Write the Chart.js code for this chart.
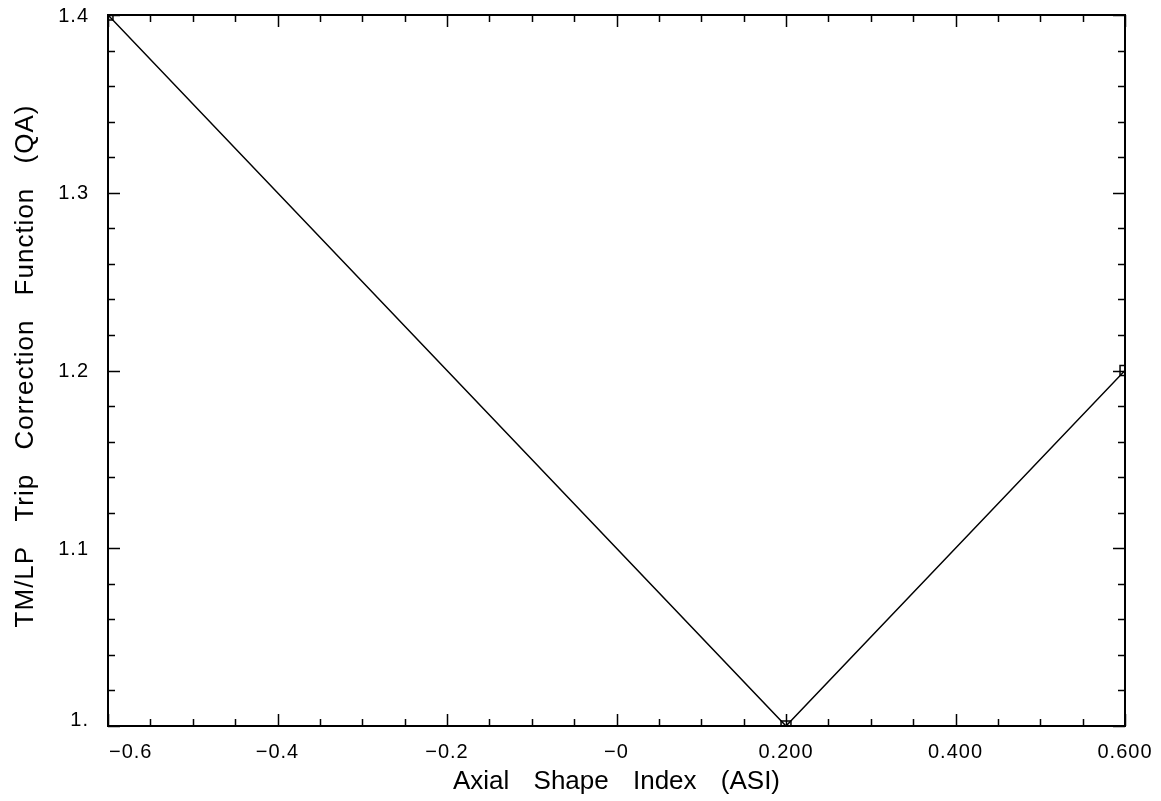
<!DOCTYPE html>
<html><head><meta charset="utf-8">
<script src="https://cdn.jsdelivr.net/npm/chart.js@4/dist/chart.umd.min.js"></script>
<style>html,body{margin:0;padding:0;background:#fff}#wrap{width:1161px;height:801px;position:relative}</style>
</head><body><div id="wrap"><canvas id="c"></canvas></div>
<script>
const asiValues = [-0.6, 0.2, 0.6];
const qaValues = [1.4, 1.0, 1.2];
const xMajorTicks = [-0.6, -0.4, -0.2, 0, 0.2, 0.4, 0.6];
const xTickLabels = ['−0.6', '−0.4', '−0.2', '−0', '0.200', '0.400', '0.600'];
const yMajorTicks = [1.0, 1.1, 1.2, 1.3, 1.4];
const yTickLabels = ['1.', '1.1', '1.2', '1.3', '1.4'];
const xRange = [-0.6, 0.6];
const yRange = [1.0, 1.4];
const xMinorStep = 0.05;
const yMinorStep = 0.02;
const xTitle = 'Axial Shape Index (ASI)';
const yTitle = 'TM/LP Trip Correction Function (QA)';

const FONT = "'Liberation Sans', Arial, sans-serif";

const framePlugin = {
  id: 'frame',
  afterDraw(chart) {
    const ctx = chart.ctx;
    const a = chart.chartArea;
    const xs = chart.scales.x, ys = chart.scales.y;
    ctx.save();
    ctx.strokeStyle = '#000';
    ctx.fillStyle = '#000';
    ctx.lineWidth = 2;
    ctx.strokeRect(a.left, a.top, a.right - a.left, a.bottom - a.top);
    ctx.lineWidth = 1.5;
    const isMajor = (v, list) => list.some(m => Math.abs(m - v) < 1e-6);
    const nx = Math.round((xRange[1] - xRange[0]) / xMinorStep);
    for (let i = 0; i <= nx; i++) {
      const v = xRange[0] + i * xMinorStep;
      const px = Math.round(xs.getPixelForValue(v)) + 0.5;
      const len = isMajor(v, xMajorTicks) ? 12 : 7;
      ctx.beginPath();
      ctx.moveTo(px, a.bottom); ctx.lineTo(px, a.bottom - len);
      ctx.moveTo(px, a.top); ctx.lineTo(px, a.top + len);
      ctx.stroke();
    }
    const ny = Math.round((yRange[1] - yRange[0]) / yMinorStep);
    for (let i = 0; i <= ny; i++) {
      const v = yRange[0] + i * yMinorStep;
      const py = Math.round(ys.getPixelForValue(v)) + 0.5;
      const len = isMajor(v, yMajorTicks) ? 12 : 7;
      ctx.beginPath();
      ctx.moveTo(a.left, py); ctx.lineTo(a.left + len, py);
      ctx.moveTo(a.right, py); ctx.lineTo(a.right - len, py);
      ctx.stroke();
    }
    // x tick labels
    ctx.font = '20px ' + FONT;
    ctx.letterSpacing = '1px';
    ctx.textBaseline = 'alphabetic';
    xMajorTicks.forEach((v, i) => {
      const px = xs.getPixelForValue(v);
      if (i === 0) { ctx.textAlign = 'left'; ctx.fillText(xTickLabels[i], px + 1, 758); }
      else { ctx.textAlign = 'center'; ctx.fillText(xTickLabels[i], px, 758); }
    });
    // y tick labels
    ctx.textAlign = 'right';
    yMajorTicks.forEach((v, i) => {
      const py = ys.getPixelForValue(v);
      if (i === 0) { ctx.textBaseline = 'alphabetic'; ctx.fillText(yTickLabels[i], 89, py); }
      else { ctx.textBaseline = 'middle'; ctx.fillText(yTickLabels[i], 89, py + 1); }
    });
    // titles
    ctx.font = '26px ' + FONT;
    ctx.letterSpacing = '0px';
    ctx.wordSpacing = '17px';
    ctx.textAlign = 'center';
    ctx.textBaseline = 'alphabetic';
    ctx.fillText(xTitle, (a.left + a.right) / 2, 789);
    ctx.save();
    ctx.letterSpacing = '1px';
    ctx.wordSpacing = '16px';
    ctx.translate(33, 366);
    ctx.rotate(-Math.PI / 2);
    ctx.fillText(yTitle, 0, 0);
    ctx.restore();
    ctx.restore();
  }
};

new Chart(document.getElementById('c'), {
  type: 'scatter',
  data: {
    datasets: [{
      data: asiValues.map((x, i) => ({ x, y: qaValues[i] })),
      showLine: true,
      borderColor: '#000',
      borderWidth: 1.5,
      pointStyle: 'rect',
      pointRadius: 7,
      pointBorderWidth: 1.5,
      pointBorderColor: '#000',
      pointBackgroundColor: 'rgba(0,0,0,0)',
      clip: 0
    }]
  },
  options: {
    responsive: true,
    maintainAspectRatio: false,
    animation: false,
    layout: { padding: { left: 108, right: 36, top: 15, bottom: 75 } },
    plugins: { legend: { display: false }, tooltip: { enabled: false } },
    scales: {
      x: { type: 'linear', display: false, min: xRange[0], max: xRange[1] },
      y: { type: 'linear', display: false, min: yRange[0], max: yRange[1] }
    }
  },
  plugins: [framePlugin]
});
</script>
</body></html>
